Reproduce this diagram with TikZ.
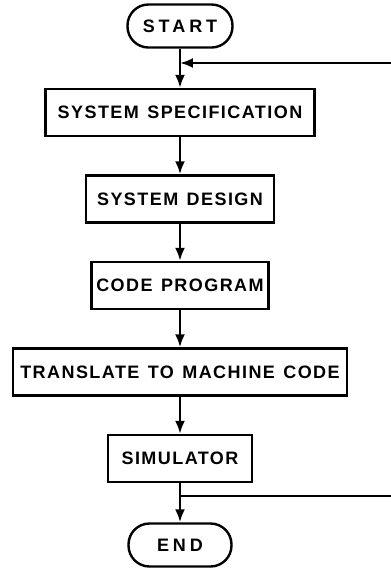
\documentclass[tikz,border=0pt]{standalone}
\usepackage{fontspec}
\newfontfamily\chartfont{Liberation Sans}[LetterSpace=8,WordSpace=1.3]
\usetikzlibrary{arrows.meta}

\begin{document}
\begin{tikzpicture}[x=0.5pt,y=-0.5pt,node distance=43.25pt,line width=1.2pt,
  >={Latex[length=6.5pt,width=5pt]},
  box/.style={draw,rectangle,minimum height=23.5pt,inner sep=2pt,
    font=\chartfont\bfseries\fontsize{9}{10}\selectfont},
  term/.style={box,rounded corners=10.5pt,minimum height=21.5pt,
    font=\chartfont\bfseries\fontsize{9}{10}\selectfont\addfontfeature{LetterSpace=22}}]
\useasboundingbox (0,0) rectangle (391,570);
\node[term,minimum width=52.5pt] (start) at (180,26)      {START};
\node[box,minimum width=134.5pt] (spec)   [below of=start]  {SYSTEM SPECIFICATION};
\node[box,minimum width=94pt]    (design) [below of=spec]   {SYSTEM DESIGN};
\node[box,minimum width=88.5pt]  (code)   [below of=design] {CODE PROGRAM};
\node[box,minimum width=167pt]   (trans)  [below of=code]   {TRANSLATE TO MACHINE CODE};
\node[box,minimum width=72pt]    (sim)    [below of=trans]  {SIMULATOR};
\node[term,minimum width=51.5pt] (end)    [below of=sim]    {END};
% feedback runs off the right edge
\coordinate (back_in)  at (391,63);
\coordinate (back_out) at (391,496);
\path[->] (start)  edge (spec)
          (spec)   edge (design)
          (design) edge (code)
          (code)   edge (trans)
          (trans)  edge (sim)
          (sim)    edge (end);
\draw (sim.south |- back_out) -- (back_out);
\draw[->] (back_in) -- (start |- back_in);
\end{tikzpicture}
\end{document}
